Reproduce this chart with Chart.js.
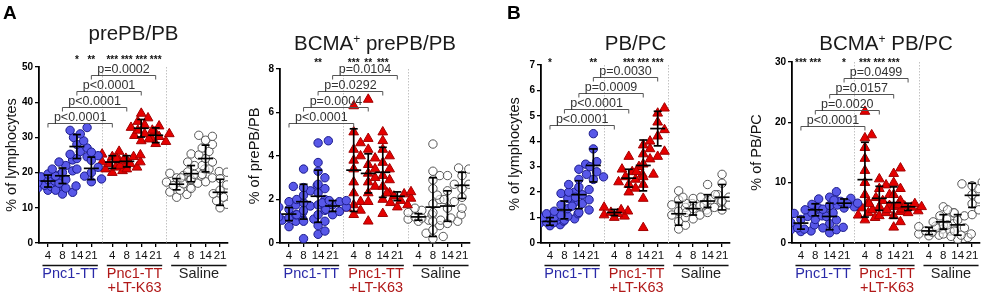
<!DOCTYPE html>
<html>
<head>
<meta charset="utf-8">
<script src="https://cdn.jsdelivr.net/npm/chart.js@4.4.1/dist/chart.umd.min.js"></script>
<style>
  body { margin: 0; background: #fff; }
  #wrap { position: relative; width: 991px; height: 295px; overflow: hidden; }
  canvas { position: absolute; top: 0; }
</style>
</head>
<body>
<div id="wrap">
  <canvas id="c1" width="240" height="295" style="left:0px"></canvas>
  <canvas id="c2" width="245" height="295" style="left:240px"></canvas>
  <canvas id="c3" width="245" height="295" style="left:495px"></canvas>
  <canvas id="c4" width="251" height="295" style="left:740px"></canvas>
</div>
<script>
// ---- data ----
const days = ['4', '8', '14', '21'];
const groupNames = [['Pnc1-TT'], ['Pnc1-TT', '+LT-K63'], ['Saline']];

// prePB/PB (% of lymphocytes)
const prePB_pnc = [
  [15.0, 15.3, 15.6, 16.0, 16.4, 16.8, 17.2, 17.6, 18.0, 18.4, 18.8, 19.2, 19.6, 19.9],
  [13.9, 14.4, 15.0, 15.6, 16.2, 17.0, 18.0, 19.0, 20.0, 21.0, 22.0, 23.0, 23.6, 20.5],
  [21.0, 24.0, 24.5, 25.2, 26.0, 27.0, 28.0, 29.0, 30.0, 31.0, 32.0, 32.8],
  [17.4, 18.2, 19.0, 20.0, 21.5, 23.5, 24.8, 25.8]
];
const prePB_lt = [
  [20.0, 20.5, 21.0, 21.5, 22.0, 22.5, 23.0, 23.5, 24.0, 24.5, 25.2, 26.0],
  [21.0, 21.5, 22.0, 22.5, 23.0, 23.5, 24.0, 24.5, 25.0],
  [29.0, 29.8, 30.5, 31.0, 31.5, 32.0, 32.8, 33.5, 34.5, 35.5, 36.8],
  [28.2, 28.8, 29.5, 30.2, 31.0, 32.0, 33.2]
];
const prePB_sal = [
  [13.0, 13.8, 14.5, 15.0, 15.8, 16.3, 16.8, 17.3, 17.8, 18.5, 19.2, 19.8],
  [15.5, 17.0, 18.0, 18.5, 19.0, 19.5, 20.2, 21.0, 22.0, 23.0, 25.3],
  [17.4, 18.5, 19.5, 20.3, 21.0, 22.0, 23.0, 24.0, 25.0, 26.0, 27.0, 28.0, 29.2, 30.3, 30.6],
  [10.0, 11.0, 12.0, 13.0, 14.0, 15.0, 16.5, 18.3, 20.1]
];
const prePB_mean = [17.6, 19.1, 27.4, 21.2, 23.0, 23.2, 32.6, 30.6, 16.7, 19.7, 24.0, 14.4];
const prePB_sd = [1.7, 2.2, 3.4, 3.2, 1.8, 1.6, 2.5, 2.1, 1.6, 2.3, 3.8, 3.7];
const prePB_p = ['p<0.0001', 'p<0.0001', 'p<0.0001', 'p=0.0002'];
const prePB_stars = ['', '', '*', '**', '***', '***', '***', '***', '', '', '', ''];

// BCMA+ prePB/PB (% of prePB/PB)
const bPre_pnc = [
  [0.75, 1.0, 1.05, 1.1, 1.15, 1.2, 1.3, 1.4, 1.55, 1.65, 1.75, 1.9],
  [0.2, 1.0, 1.1, 1.3, 1.5, 1.7, 1.85, 2.0, 2.2, 2.4, 2.55, 2.6, 2.65, 3.4],
  [0.4, 0.55, 0.8, 1.0, 1.3, 1.5, 1.75, 2.0, 2.3, 2.5, 2.7, 3.0, 3.3, 3.7, 4.6, 4.7],
  [1.3, 1.45, 1.55, 1.65, 1.75, 1.85, 1.9, 1.95, 1.95]
];
const bPre_lt = [
  [1.3, 1.5, 1.6, 1.75, 1.9, 2.3, 2.8, 3.4, 3.8, 4.0, 4.3, 4.6, 5.1, 6.3],
  [1.0, 1.9, 2.3, 2.6, 2.8, 3.0, 3.2, 3.4, 3.6, 3.9, 4.3, 4.8, 6.6],
  [1.35, 2.0, 2.3, 2.6, 2.9, 3.1, 3.4, 3.7, 4.0, 4.3, 4.7, 5.1],
  [1.65, 1.75, 1.85, 1.95, 2.05, 2.15, 2.25, 2.3, 2.35]
];
const bPre_sal = [
  [1.0, 1.05, 1.1, 1.15, 1.2, 1.3, 1.4, 1.5, 1.6],
  [0.2, 0.3, 0.45, 0.6, 0.8, 1.0, 1.4, 1.8, 2.0, 2.5, 2.9, 3.1, 3.3, 4.55],
  [0.9, 1.0, 1.05, 1.15, 1.3, 1.6, 1.9, 2.0, 2.2, 2.4, 2.7, 3.1],
  [1.6, 2.1, 2.5, 2.7, 3.1, 3.4, 3.45]
];
const bPre_mean = [1.33, 1.9, 2.15, 1.7, 3.35, 3.2, 3.25, 2.15, 1.2, 1.65, 1.7, 2.65];
const bPre_sd = [0.3, 0.8, 1.2, 0.25, 1.9, 0.9, 1.15, 0.2, 0.15, 1.35, 0.7, 0.6];
const bPre_p = ['p<0.0001', 'p=0.0004', 'p=0.0292', 'p=0.0104'];
const bPre_stars = ['', '', '**', '', '***', '**', '***', '', '', '', '', ''];

// PB/PC (% of lymphocytes)
const pbpc_pnc = [
  [0.68, 0.72, 0.78, 0.82, 0.86, 0.9, 0.95, 1.0, 1.05, 1.1, 1.15, 0.8],
  [0.9, 0.95, 1.0, 1.05, 1.1, 1.15, 1.25, 1.35, 1.5, 1.6, 1.75, 1.95, 2.0],
  [1.2, 1.3, 1.45, 1.55, 1.7, 1.8, 1.9, 2.0, 2.1, 2.2, 2.3, 2.5, 2.9, 3.1],
  [2.5, 2.6, 2.7, 2.8, 3.0, 3.2, 3.7, 4.3]
];
const pbpc_lt = [
  [1.0, 1.05, 1.1, 1.15, 1.2, 1.25, 1.3, 1.4],
  [2.0, 2.15, 2.3, 2.4, 2.5, 2.6, 2.7, 2.8, 2.9, 3.0, 3.4],
  [0.6, 1.75, 2.3, 2.6, 2.8, 3.1, 3.3, 3.5, 3.7, 3.85, 4.0, 2.7],
  [3.4, 3.6, 4.2, 4.45, 4.75, 5.1, 5.3]
];
const pbpc_sal = [
  [0.55, 0.7, 0.85, 1.0, 1.1, 1.25, 1.4, 1.5, 1.55, 1.7, 2.05],
  [0.95, 1.1, 1.2, 1.3, 1.35, 1.45, 1.55, 1.65, 1.75, 1.8],
  [1.2, 1.4, 1.5, 1.6, 1.7, 1.8, 1.9, 2.3],
  [1.3, 1.5, 1.65, 1.8, 1.9, 2.0, 2.35, 2.7]
];
const pbpc_mean = [0.85, 1.3, 1.9, 3.05, 1.2, 2.55, 3.05, 4.5, 1.15, 1.35, 1.65, 1.8];
const pbpc_sd = [0.15, 0.35, 0.55, 0.65, 0.12, 0.35, 1.0, 0.68, 0.45, 0.25, 0.25, 0.5];
const pbpc_p = ['p<0.0001', 'p<0.0001', 'p=0.0009', 'p=0.0030'];
const pbpc_stars = ['*', '', '', '**', '', '***', '***', '***', '', '', '', ''];

// BCMA+ PB/PC (% of PB/PC)
const bPc_pnc = [
  [1.9, 2.0, 2.2, 2.5, 3.0, 3.4, 3.9, 4.4, 4.9, 5.3, 2.3],
  [3.9, 4.5, 5.0, 5.5, 5.9, 6.4, 7.3, 5.8],
  [1.7, 2.2, 2.6, 3.2, 3.8, 4.4, 5.0, 5.6, 6.2, 7.0, 7.6, 8.5, 2.5],
  [5.8, 6.0, 6.3, 6.6, 6.9, 7.1, 7.4, 6.5]
];
const bPc_lt = [
  [3.8, 4.2, 5.0, 5.8, 6.8, 8.0, 10.0, 12.0, 14.0, 15.8, 17.4, 17.9, 21.8, 4.6],
  [4.5, 5.0, 5.5, 6.0, 6.5, 7.0, 7.5, 8.0, 9.0, 9.6, 10.6, 6.2],
  [2.6, 3.5, 4.5, 5.2, 6.0, 7.0, 8.0, 9.0, 10.0, 11.5, 12.4, 5.5],
  [5.0, 5.3, 5.6, 5.9, 6.1, 6.3, 6.5, 6.0]
];
const bPc_sal = [
  [1.2, 1.3, 1.5, 1.8, 2.0, 2.3, 2.7, 2.8],
  [1.5, 2.0, 2.5, 3.0, 3.5, 4.0, 4.5, 5.0, 6.0, 3.2],
  [0.6, 0.9, 1.1, 1.3, 1.5, 2.0, 2.5, 3.0, 3.8, 4.5, 5.0, 5.5],
  [4.7, 5.5, 6.5, 7.3, 8.0, 9.0, 9.5, 9.8, 10.1]
];
const bPc_mean = [3.3, 5.5, 4.4, 6.6, 10.5, 7.4, 6.7, 6.0, 2.0, 3.5, 3.0, 7.9];
const bPc_sd = [1.0, 1.0, 2.2, 0.7, 6.2, 2.0, 2.6, 0.6, 0.6, 1.2, 1.7, 2.0];
const bPc_p = ['p<0.0001', 'p=0.0020', 'p=0.0157', 'p=0.0499'];
const bPc_stars = ['***', '***', '', '*', '***', '***', '***', '', '', '', '', ''];

// ---- layout ----
const X_POS = [0, 1, 2, 3, 4.45, 5.45, 6.45, 7.45, 8.9, 9.9, 10.9, 11.9];
const SEPS = [3.725, 8.175];
const X_MIN = -0.62, X_MAX = 12.45, PX_X = 14.46;
const FONT = '"Liberation Sans", Arial, Helvetica, sans-serif';
Chart.defaults.font.family = FONT;

const panels = [
  { id: 'c1', letter: 'A', title: [['prePB/PB']], titleY: 40, yTitle: '% of lymphocytes', ytx: 12,
    groups: [prePB_pnc, prePB_lt, prePB_sal], mean: prePB_mean, sd: prePB_sd, pv: prePB_p, stars: prePB_stars,
    yMax: 50, step: 10, top: 67, yw: 39, padR: 12, brBase: 56, starY: 57 },
  { id: 'c2', title: [['BCMA'], ['+', 1], [' prePB/PB']], titleY: 50, yTitle: '% of prePB/PB', ytx: 15,
    groups: [bPre_pnc, bPre_lt, bPre_sal], mean: bPre_mean, sd: bPre_sd, pv: bPre_p, stars: bPre_stars,
    yMax: 8, step: 2, top: 69, yw: 40, padR: 15, brBase: 54, starY: 60 },
  { id: 'c3', letter: 'B', letterX: 12, title: [['PB/PC']], titleY: 50, yTitle: '% of lymphocytes', ytx: 20,
    groups: [pbpc_pnc, pbpc_lt, pbpc_sal], mean: pbpc_mean, sd: pbpc_sd, pv: pbpc_p, stars: pbpc_stars,
    yMax: 7, step: 1, top: 65, yw: 46, padR: 10, brBase: 60, starY: 60 },
  { id: 'c4', title: [['BCMA'], ['+', 1], [' PB/PC']], titleY: 50, yTitle: '% of PB/PC', ytx: 17,
    groups: [bPc_pnc, bPc_lt, bPc_sal], mean: bPc_mean, sd: bPc_sd, pv: bPc_p, stars: bPc_stars,
    yMax: 30, step: 10, top: 62, yw: 52, padR: 11, brBase: 64, starY: 60 }
];

const groupColors = ['#2a2aa8', '#b01818', '#222'];
const styles = [
  { pointStyle: 'circle', pointRadius: 4.2, backgroundColor: '#5858e8', borderColor: '#1c1c8c', borderWidth: 1 },
  { pointStyle: 'triangle', pointRadius: 5.6, backgroundColor: '#e50000', borderColor: '#a30000', borderWidth: 1 },
  { pointStyle: 'circle', pointRadius: 4.2, backgroundColor: 'rgba(255,255,255,0.55)', borderColor: '#555', borderWidth: 1 }
];

// spread points sideways so they do not sit on top of each other
function swarm(vals, pxY) {
  const D = 7.4, STEP = 3.4;
  const idx = vals.map((v, i) => i).sort((a, b) => vals[a] - vals[b]);
  const placed = [], out = [];
  idx.forEach(i => {
    const py = vals[i] * pxY;
    let best = 0, bestGap = -1;
    for (let k = 0; k < 8; k++) {
      const c = (k % 2 ? 1 : -1) * Math.ceil(k / 2) * STEP;
      const gap = placed.reduce((m, p) => Math.min(m, Math.hypot(p.x - c, p.y - py)), Infinity);
      if (gap >= D) { best = c; break; }
      if (gap > bestGap) { bestGap = gap; best = c; }
    }
    placed.push({ x: best, y: py });
    out[i] = best / PX_X;
  });
  return out;
}

function makeDatasets(P) {
  const pxY = (243 - P.top) / P.yMax;
  return P.groups.map((g, gi) => {
    const data = [];
    g.forEach((vals, di) => {
      const offs = swarm(vals, pxY);
      vals.forEach((v, k) => data.push({ x: X_POS[gi * 4 + di] + offs[k], y: v }));
    });
    return Object.assign({ data, pointHoverRadius: styles[gi].pointRadius }, styles[gi]);
  });
}

function makeDecor(P) {
  const line = (ctx, x1, y1, x2, y2) => { ctx.beginPath(); ctx.moveTo(x1, y1); ctx.lineTo(x2, y2); ctx.stroke(); };
  return {
    id: 'decor',
    beforeDatasetsDraw(chart) {
      const { ctx, chartArea: a, scales: { x } } = chart;
      ctx.save();
      ctx.strokeStyle = '#c2c2c2'; ctx.lineWidth = 1; ctx.setLineDash([1.5, 1.5]);
      SEPS.forEach(s => {
        const px = Math.round(x.getPixelForValue(s)) + 0.5;
        line(ctx, px, a.top, px, a.bottom);
      });
      ctx.restore();
    },
    afterDatasetsDraw(chart) {
      const { ctx, chartArea: a, scales: { x, y } } = chart;
      ctx.save();
      // mean and SD
      ctx.strokeStyle = '#000'; ctx.lineWidth = 1.7;
      P.mean.forEach((m, i) => {
        const px = x.getPixelForValue(X_POS[i]);
        const t = y.getPixelForValue(m + P.sd[i]), b = y.getPixelForValue(Math.max(0, m - P.sd[i]));
        const c = y.getPixelForValue(m);
        line(ctx, px, t, px, b);
        line(ctx, px - 4, t, px + 4, t);
        line(ctx, px - 4, b, px + 4, b);
        line(ctx, px - 7.5, c, px + 7.5, c);
      });
      // comparison brackets
      ctx.font = '12.5px ' + FONT; ctx.textAlign = 'center'; ctx.textBaseline = 'alphabetic';
      P.pv.forEach((t, i) => {
        const yy = Math.round(a.top + P.brBase - i * 16) + 0.5;
        const x1 = x.getPixelForValue(X_POS[i]), x2 = x.getPixelForValue(X_POS[4 + i]);
        ctx.strokeStyle = '#555'; ctx.lineWidth = 1;
        ctx.beginPath(); ctx.moveTo(x1, yy + 4); ctx.lineTo(x1, yy); ctx.lineTo(x2, yy); ctx.lineTo(x2, yy + 4); ctx.stroke();
        ctx.fillStyle = '#333';
        ctx.fillText(t, (x1 + x2) / 2, yy - 3);
      });
      // significance stars
      ctx.font = 'bold 10px ' + FONT; ctx.fillStyle = '#111';
      P.stars.forEach((s, i) => { if (s) ctx.fillText(s, x.getPixelForValue(X_POS[i]), P.starY + 6); });
      // group underlines and names
      ctx.lineWidth = 1.6; ctx.strokeStyle = '#111';
      ctx.font = '14.5px ' + FONT; ctx.textBaseline = 'middle';
      groupNames.forEach((names, g) => {
        const x1 = x.getPixelForValue(X_POS[g * 4] - 0.38), x2 = x.getPixelForValue(X_POS[g * 4 + 3] + 0.45);
        line(ctx, x1, 265.5, x2, 265.5);
        ctx.fillStyle = groupColors[g];
        names.forEach((n, k) => ctx.fillText(n, (x1 + x2) / 2, 274 + k * 14));
      });
      // y title
      ctx.save();
      ctx.translate(P.ytx, (a.top + a.bottom) / 2); ctx.rotate(-Math.PI / 2);
      ctx.font = '14.5px ' + FONT; ctx.fillStyle = '#111';
      ctx.fillText(P.yTitle, 0, 0);
      ctx.restore();
      // title with optional superscript
      ctx.textAlign = 'left'; ctx.textBaseline = 'alphabetic'; ctx.fillStyle = '#1a1a1a';
      const parts = P.title.map(([s, sup]) => ({ s, sup, f: (sup ? 12 : 20.5) + 'px ' + FONT }));
      let w = 0;
      parts.forEach(p => { ctx.font = p.f; p.w = ctx.measureText(p.s).width; w += p.w; });
      let cx = (a.left + a.right) / 2 - w / 2;
      parts.forEach(p => { ctx.font = p.f; ctx.fillText(p.s, cx, P.titleY - (p.sup ? 7 : 0)); cx += p.w; });
      // panel letter
      if (P.letter) {
        ctx.font = 'bold 19px ' + FONT; ctx.fillStyle = '#000';
        ctx.fillText(P.letter, P.letterX || 3, 19);
      }
      ctx.restore();
    }
  };
}

panels.forEach(P => {
  new Chart(document.getElementById(P.id), {
    type: 'scatter',
    data: { datasets: makeDatasets(P) },
    options: {
      responsive: false,
      animation: false,
      devicePixelRatio: 1,
      events: [],
      layout: { padding: { top: P.top, right: P.padR, left: 0, bottom: 0 } },
      plugins: { legend: { display: false }, tooltip: { enabled: false } },
      scales: {
        x: {
          type: 'linear', min: X_MIN, max: X_MAX,
          afterBuildTicks: s => { s.ticks = X_POS.map(v => ({ value: v })); },
          afterFit: s => { s.height = 52; },
          ticks: { autoSkip: false, maxRotation: 0, padding: 2, color: '#111', font: { size: 11.5 },
                   callback: (v, i) => days[i % 4] },
          grid: { drawOnChartArea: false, drawTicks: true, tickLength: 4, color: '#000', lineWidth: 1.3 },
          border: { color: '#000', width: 1.8 }
        },
        y: {
          min: 0, max: P.yMax,
          afterFit: s => { s.width = P.yw; },
          ticks: { stepSize: P.step, padding: 2, color: '#000', font: { size: 10, weight: 'bold' } },
          grid: { drawOnChartArea: false, drawTicks: true, tickLength: 4, color: '#000', lineWidth: 1.3 },
          border: { color: '#000', width: 1.8 }
        }
      }
    },
    plugins: [makeDecor(P)]
  });
});
</script>
</body>
</html>
